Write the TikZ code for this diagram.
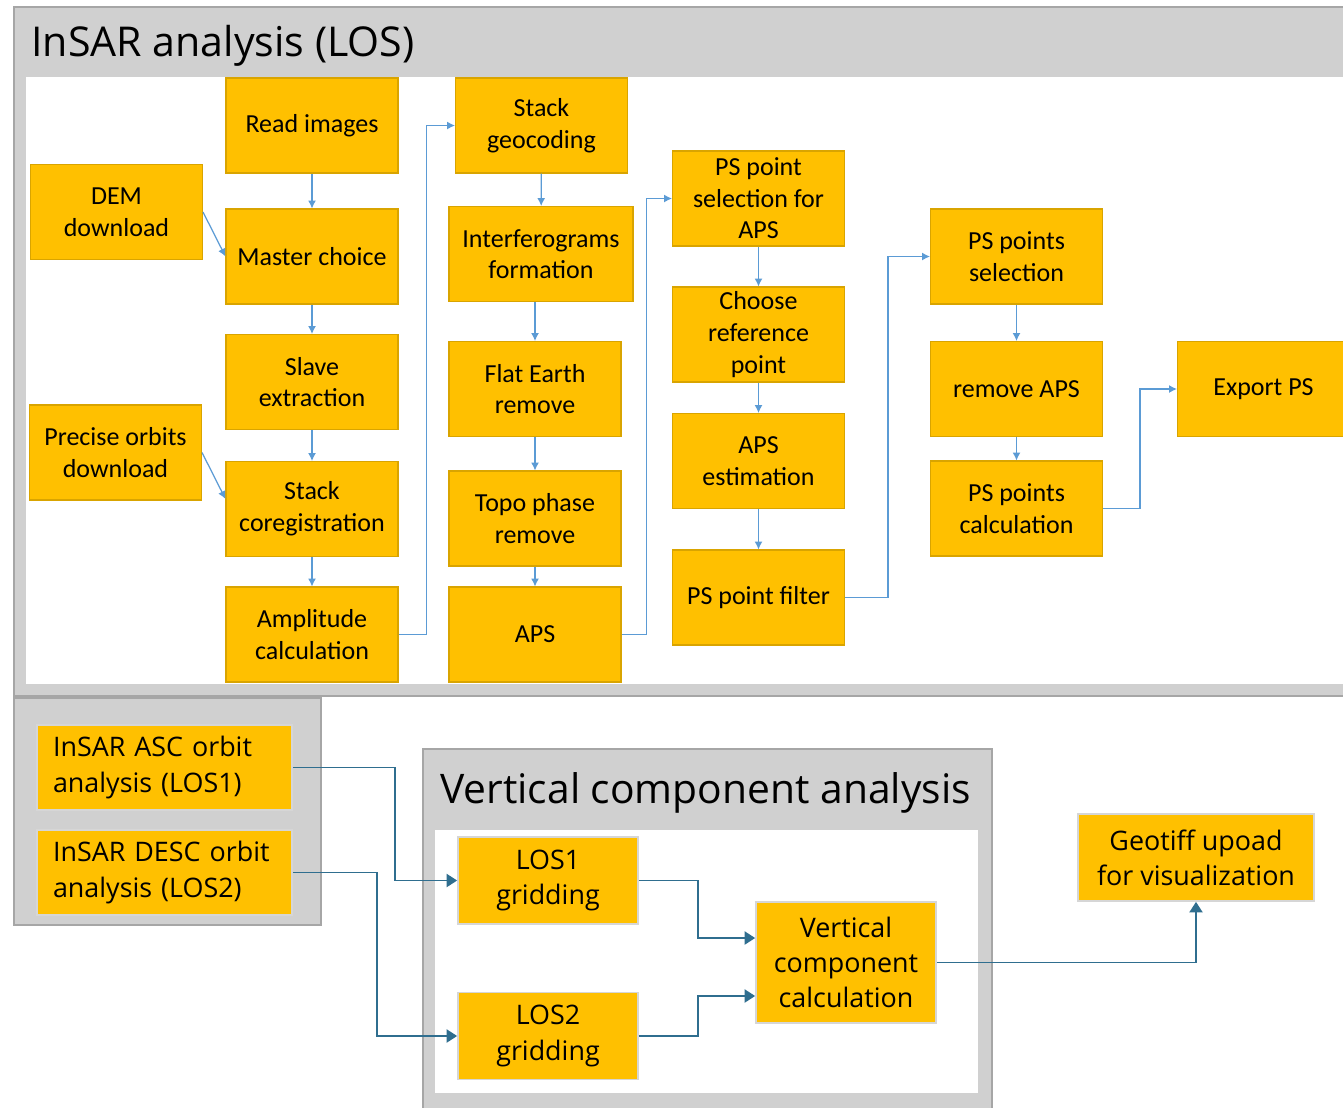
\documentclass[tikz,border=0pt]{standalone}
\usepackage{fontspec}
\setmainfont{Carlito}
\newfontfamily\titlefont{Open Sans}
\usetikzlibrary{arrows.meta}

\definecolor{boxorange}{HTML}{FFC000}
\definecolor{boxedge}{HTML}{D9A400}
\definecolor{halo}{HTML}{D6D6D6}
\definecolor{framegray}{HTML}{D0D0D0}
\definecolor{frameedge}{HTML}{A6A6A6}
\definecolor{flowblue}{HTML}{5B9BD5}
\definecolor{flowteal}{HTML}{2F6E8F}

\begin{document}
\begin{tikzpicture}[x=0.02cm, y=-0.02cm,
    frame/.style={fill=framegray, draw=frameedge, line width=1.6pt},
    procbox/.style={fill=boxorange, draw=boxedge, line width=0.6pt, align=center,
        minimum width=3.44cm, minimum height=1.9cm, inner sep=1pt,
        font=\fontsize{14.8}{18}\selectfont},
    resbox/.style={fill=boxorange, draw=halo, line width=1pt, align=center,
        minimum width=3.6cm, minimum height=1.74cm, inner sep=1pt,
        font=\titlefont\fontsize{15.3}{20}\selectfont},
    flow/.style={draw=flowblue, line width=0.7pt, -{Latex[length=4.5pt,width=4.5pt]}},
    link/.style={draw=flowteal, line width=0.9pt, -{Triangle[length=6pt,width=7.5pt]}}]

    \clip (0,0) rectangle (1343,1107);

    % InSAR analysis frame
    \draw[frame] (14,7) rectangle (1370,696);
    \fill[white] (26,77) rectangle (1370,684);
    \node[anchor=west, inner sep=0pt, font=\titlefont\fontsize{23.4}{28}\selectfont] (title) at (31,46) {InSAR analysis (LOS)};

    \node[procbox] (dem) at (116.5,212) {DEM\\download};
    \node[procbox] (orbits) at (115.5,452.5) {Precise orbits\\download};

    \node[procbox] (read) at (312,125.5) {Read images};
    \node[procbox] (master) at (312,256.5) {Master choice};
    \node[procbox] (slave) at (312,382) {Slave\\extraction};
    \node[procbox] (coreg) at (312,509) {Stack\\coregistration};
    \node[procbox] (ampl) at (312,634.5) {Amplitude\\calculation};

    \node[procbox] (geocod) at (541.5,125.5) {Stack\\geocoding};
    \node[procbox, minimum width=3.68cm] (interf) at (541,254) {Interferograms\\formation};
    \node[procbox] (flat) at (535,389) {Flat Earth\\remove};
    \node[procbox] (topo) at (535,518.5) {Topo phase\\remove};
    \node[procbox] (aps) at (535,634.5) {APS};

    \node[procbox] (pssel) at (758.5,198.5) {PS point\\selection for\\APS};
    \node[procbox] (refpt) at (758.5,334.5) {Choose\\reference\\point};
    \node[procbox] (apsest) at (758.5,461) {APS\\estimation};
    \node[procbox] (psfilt) at (758.5,597.5) {PS point filter};

    \node[procbox] (pspts) at (1016.5,256.5) {PS points\\selection};
    \node[procbox] (rmaps) at (1016.5,389) {remove APS};
    \node[procbox] (pscalc) at (1016.5,508.5) {PS points\\calculation};
    \node[procbox] (export) at (1263.5,389) {Export PS};

    \draw[flow] (dem.east) -- (master.west);
    \draw[flow] (orbits.east) -- ([yshift=0.2cm]coreg.west);
    \foreach \a/\b in {read/master, master/slave, slave/coreg, coreg/ampl,
        geocod/interf, flat/topo, topo/aps, pssel/refpt, refpt/apsest,
        apsest/psfilt, pspts/rmaps, rmaps/pscalc}
        \draw[flow] (\a) -- (\b);
    \draw[flow] (flat.north |- interf.south) -- (flat.north);
    \draw[flow] (ampl.east) -- ++(28,0) |- (geocod.west);
    \draw[flow] (aps.east) -- ++(25,0) |- (pssel.west);
    \draw[flow] (psfilt.east) -- ++(43,0) |- (pspts.west);
    \draw[flow] (pscalc.east) -- ++(37,0) |- (export.west);

    % orbit results
    \draw[frame] (14,698) rectangle (321,925);
    \node[resbox, align=left, text width=4.46cm, minimum height=1.7cm, inner xsep=0.32cm] (asc) at (164.5,767.5) {InSAR ASC orbit\\analysis (LOS1)};
    \node[resbox, align=left, text width=4.46cm, minimum height=1.7cm, inner xsep=0.32cm] (desc) at (164.5,872.5) {InSAR DESC orbit\\analysis (LOS2)};

    % Vertical component analysis frame
    \draw[frame] (423,749) rectangle (992,1130);
    \fill[white] (435,830) rectangle (978,1093);
    \node[anchor=west, inner sep=0pt, font=\titlefont\fontsize{23.2}{28}\selectfont] (vtitle) at (440,793) {Vertical component analysis};

    \node[resbox] (los1) at (548,880.5) {LOS1\\gridding};
    \node[resbox] (los2) at (548,1036) {LOS2\\gridding};
    \node[resbox, minimum height=2.42cm] (vert) at (846,962.5) {Vertical\\component\\calculation};
    \node[resbox, minimum width=4.72cm] (geotiff) at (1196,857.5) {Geotiff upoad\\for visualization};

    \draw[link] (asc.east) -- ++(102,0) |- (los1.west);
    \draw[link] (desc.east) -- ++(84,0) |- (los2.west);
    \draw[link] (los1.east) -- ++(59,0) |- ([yshift=0.49cm]vert.west);
    \draw[link] (los2.east) -- ++(59,0) |- ([yshift=-0.67cm]vert.west);
    \draw[link] (vert.east) -| (geotiff.south);

\end{tikzpicture}
\end{document}
